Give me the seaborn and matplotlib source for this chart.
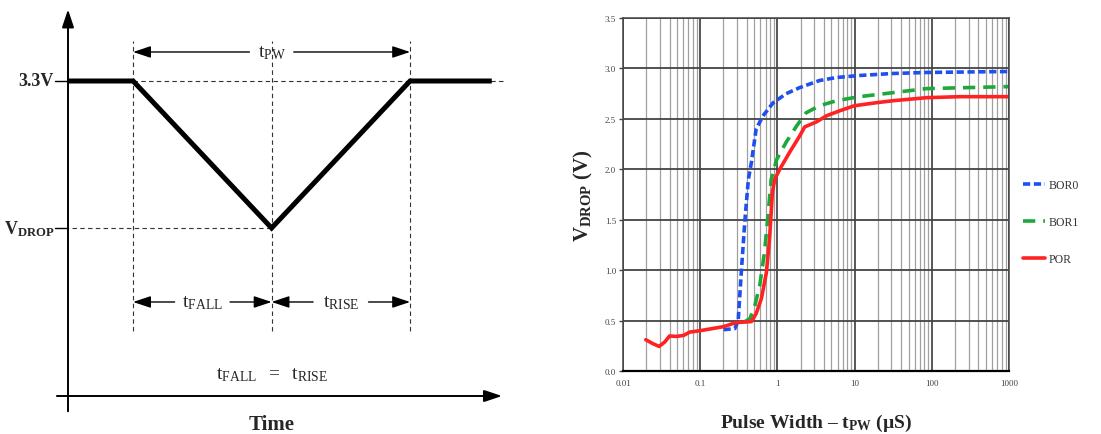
import numpy as np
import pandas as pd
import matplotlib
matplotlib.use("Agg")
import matplotlib.pyplot as plt
import seaborn as sns

sns.set_theme(style="white")
plt.rcParams['font.family'] = ['Liberation Serif', 'DejaVu Serif']
plt.rcParams['mathtext.fontset'] = 'custom'
plt.rcParams['mathtext.rm'] = 'Liberation Serif'
plt.rcParams['mathtext.it'] = 'Liberation Serif:italic'
plt.rcParams['mathtext.bf'] = 'Liberation Serif:bold'

# ---- schematic waveform (left panel) ----
V_HIGH = 3.3
V_DROP = 1.76
t_fall_start = 0.47
t_min = 1.47
t_rise_end = 2.47
wave_t = [0.0, t_fall_start, t_min, t_rise_end, 3.06]
wave_v = [V_HIGH, V_HIGH, V_DROP, V_HIGH, V_HIGH]

# ---- measured curves (right panel) ----
por_x = [0.0197, 0.0245, 0.0293, 0.0346, 0.040, 0.049, 0.061, 0.073, 0.1, 0.2, 0.29,
         0.46, 0.53, 0.62, 0.72, 0.79, 0.86, 0.92, 1.07, 1.44, 1.94, 2.25, 3.2, 4.3,
         6.4, 9.9, 19, 31.5, 85, 230, 1000]
por_y = [0.31, 0.27, 0.244, 0.287, 0.347, 0.343, 0.353, 0.386, 0.40, 0.44, 0.48,
         0.49, 0.57, 0.72, 0.98, 1.31, 1.77, 1.90, 2.0, 2.17, 2.33, 2.42, 2.47, 2.53,
         2.58, 2.63, 2.66, 2.68, 2.71, 2.72, 2.72]

bor0_x = [0.2, 0.28, 0.31, 0.34, 0.38, 0.42, 0.46, 0.53, 0.65, 0.88, 1.3, 1.94,
          3.5, 5.8, 11.5, 31.5, 85, 1000]
bor0_y = [0.41, 0.42, 0.50, 0.98, 1.51, 1.90, 2.07, 2.40, 2.53, 2.66, 2.75, 2.81,
          2.88, 2.91, 2.93, 2.95, 2.96, 2.97]

bor1_x = [0.37, 0.44, 0.51, 0.59, 0.68, 0.76, 0.83, 0.98, 1.3, 1.77, 2.35, 3.5,
          5.8, 11.5, 31.5, 85, 1000]
bor1_y = [0.485, 0.52, 0.65, 0.85, 1.18, 1.57, 1.90, 2.10, 2.27, 2.43, 2.56, 2.63,
          2.68, 2.72, 2.76, 2.80, 2.82]

x_ticks = [0.01, 0.1, 1, 10, 100, 1000]
x_ticklabels = ['0.01', '0.1', '1', '10', '100', '1000']
y_ticks = [0.0, 0.5, 1.0, 1.5, 2.0, 2.5, 3.0, 3.5]

fig = plt.figure(figsize=(11.01, 4.35), dpi=100)

# ==================== left: pulse schematic ====================
ax0 = fig.add_axes([0, 0, 0.5, 1])
ax0.set_xlim(-0.491, 3.484)
ax0.set_ylim(-0.398, 4.159)
ax0.axis('off')

arrow_kw = dict(arrowstyle='-|>,head_length=0.9,head_width=0.3', color='black',
                lw=1.4, shrinkA=0, shrinkB=0, mutation_scale=12)
# axes with arrow heads
ax0.annotate('', xy=(0, 4.05), xytext=(0, -0.16), arrowprops=arrow_kw)
ax0.annotate('', xy=(3.134, 0), xytext=(-0.08, 0), arrowprops=arrow_kw)

dash = dict(color='#333333', lw=0.8, linestyle=(0, (4, 3)))
ax0.plot([t_fall_start, 3.14], [V_HIGH, V_HIGH], **dash)
ax0.plot([0.03, t_min], [V_DROP, V_DROP], **dash)
for tv in [t_fall_start, t_min, t_rise_end]:
    ax0.plot([tv, tv], [0.68, 3.72], **dash)

sns.lineplot(x=wave_t, y=wave_v, ax=ax0, color='black', lw=3.6, sort=False,
             estimator=None, solid_joinstyle='miter', solid_capstyle='butt')

# y tick marks and labels
for lv in [V_HIGH, V_DROP]:
    ax0.plot([-0.094, 0], [lv, lv], color='black', lw=1.0)
ax0.text(-0.105, V_HIGH, '3.3V', ha='right', va='center', fontsize=13,
         fontweight='bold')
ax0.text(-0.1, V_DROP, r'$\mathbf{V_{DROP}}$', ha='right', va='center',
         fontsize=13)

# dimension arrows
dim_kw = dict(arrowstyle='-|>,head_length=0.9,head_width=0.3', color='black',
              lw=1.0, shrinkA=0, shrinkB=0, mutation_scale=12)


def dim_arrow(t0, t1, v, label, gap=0.17):
    mid = (t0 + t1) / 2
    ax0.annotate('', xy=(t0, v), xytext=(mid - gap, v), arrowprops=dim_kw)
    ax0.annotate('', xy=(t1, v), xytext=(mid + gap, v), arrowprops=dim_kw)
    ax0.text(mid, v, label, ha='center', va='center', fontsize=14)


dim_arrow(t_fall_start, t_rise_end, 3.604, r'$\mathrm{t_{PW}}$', gap=0.16)
dim_arrow(t_fall_start, t_min, 0.985, r'$\mathrm{t_{FALL}}$', gap=0.2)
dim_arrow(t_min, t_rise_end, 0.985, r'$\mathrm{t_{RISE}}$', gap=0.2)

ax0.text(t_min, 0.23, r'$\mathrm{t_{FALL}\ \ =\ \ t_{RISE}}$', ha='center',
         va='center', fontsize=14)
ax0.text(t_min, -0.29, 'Time', ha='center', va='center', fontsize=15,
         fontweight='bold')

# ==================== right: V_DROP vs pulse width ====================
ax1 = fig.add_axes([0.5659, 0.1448, 0.3506, 0.8115])

curves = [
    ('BOR0', bor0_x, bor0_y, '#1f4ff0', (0, (2.0, 1.0))),
    ('BOR1', bor1_x, bor1_y, '#1fa83a', (0, (3.4, 2.2))),
    ('POR', por_x, por_y, '#ff2222', '-'),
]
for name, xs, ys, col, ls in curves:
    sns.lineplot(x=xs, y=ys, ax=ax1, color=col, lw=2.6, linestyle=ls,
                 label=name, sort=False, estimator=None)

ax1.set_xscale('log')
ax1.set_xlim(0.01, 1000)
ax1.set_ylim(0, 3.5)
ax1.set_xticks(x_ticks)
ax1.set_xticklabels(x_ticklabels)
ax1.set_yticks(y_ticks)
ax1.set_yticklabels([f'{v:.1f}' for v in y_ticks])
ax1.xaxis.set_minor_locator(matplotlib.ticker.LogLocator(base=10, subs=np.arange(2, 10)))
ax1.xaxis.set_minor_formatter(matplotlib.ticker.NullFormatter())

ax1.grid(True, which='minor', axis='x', color='#a0a0a0', lw=0.9)
ax1.grid(True, which='major', axis='x', color='#2a2a2a', lw=1.1)
ax1.grid(True, which='major', axis='y', color='#444444', lw=1.3)
ax1.set_axisbelow(True)
for side in ['left', 'top', 'right']:
    ax1.spines[side].set_color('#444444')
    ax1.spines[side].set_linewidth(1.1)
ax1.spines['bottom'].set_color('black')
ax1.spines['bottom'].set_linewidth(1.6)

ax1.tick_params(axis='both', which='both', labelsize=6.5, labelcolor='#444444',
                colors='#444444')
ax1.tick_params(axis='x', which='both', length=0, pad=6)
ax1.tick_params(axis='y', which='major', length=3, width=1, left=True, pad=2)

ax1.set_xlabel(r'Pulse Width – $\mathbf{t_{PW}}$ (µS)', fontsize=14,
               fontweight='bold', labelpad=18)
ax1.set_ylabel(r'$\mathbf{V_{DROP}}$ (V)', fontsize=15, fontweight='bold',
               labelpad=7)

handles, labels = ax1.get_legend_handles_labels()
ax1.legend(handles, labels, loc='center left', bbox_to_anchor=(1.036, 0.422),
           frameon=False, borderaxespad=0, borderpad=0, handlelength=1.9,
           handletextpad=0.25, labelspacing=2.1,
           prop={'family': 'Liberation Serif', 'size': 8.5}, labelcolor='#333333')

fig.savefig('out.png', dpi=100)
